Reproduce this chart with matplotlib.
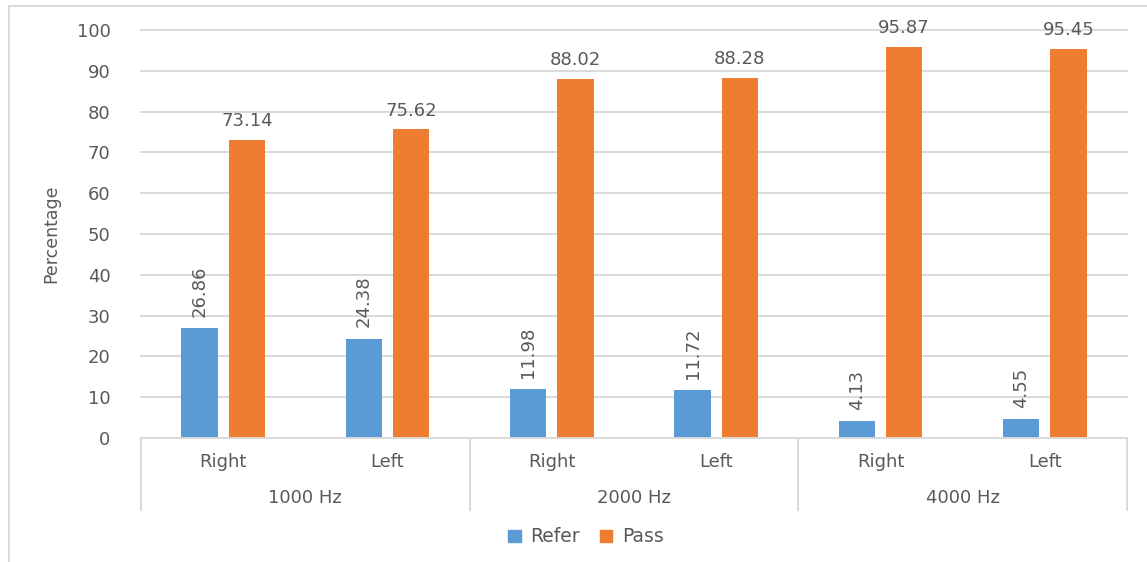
import matplotlib
matplotlib.use("Agg")
import matplotlib.pyplot as plt
from matplotlib.lines import Line2D
from matplotlib.patches import Patch
import numpy as np

# Data
groups = ["1000 Hz", "2000 Hz", "4000 Hz"]
sides = ["Right", "Left", "Right", "Left", "Right", "Left"]
refer = [26.86, 24.38, 11.98, 11.72, 4.13, 4.55]
pass_ = [73.14, 75.62, 88.02, 88.28, 95.87, 95.45]
y_ticks = [0, 10, 20, 30, 40, 50, 60, 70, 80, 90, 100]

BLUE = "#5B9BD5"
ORANGE = "#ED7D31"
TEXT = "#595959"
GRID = "#D9D9D9"

plt.rcParams["font.family"] = ["DejaVu Sans"]

W, H = 1147, 562
fig = plt.figure(figsize=(W / 100, H / 100), dpi=100)
ax = fig.add_axes([141 / W, (H - 438) / H, (1127 - 141) / W, (438 - 30) / H])

x = np.arange(len(sides))
width = 0.222
off = 0.144
b1 = ax.bar(x - off, refer, width, color=BLUE, zorder=3)
b2 = ax.bar(x + off, pass_, width, color=ORANGE, zorder=3)

ax.set_xlim(-0.5, len(sides) - 0.5)
ax.set_ylim(0, 100)
ax.set_yticks(y_ticks)
ax.set_yticklabels([str(t) for t in y_ticks])
ax.tick_params(axis="y", length=0, pad=22, labelsize=13, labelcolor=TEXT)
ax.set_xticks([])
for t in y_ticks[1:]:
    ax.axhline(t, color=GRID, linewidth=1.4, zorder=0, clip_on=False)
for s in ["left", "right", "top"]:
    ax.spines[s].set_visible(False)
ax.spines["bottom"].set_color(GRID)
ax.spines["bottom"].set_linewidth(1.4)
ax.spines["bottom"].set_zorder(4)

ax.set_ylabel("Percentage", fontsize=12.5, color=TEXT)
ax.yaxis.set_label_coords((60 - 141) / (1127 - 141), 0.5)

# value labels
for rect, v in zip(b2, pass_):
    ax.annotate(f"{v:.2f}", (rect.get_x() + rect.get_width() / 2, v),
                xytext=(0, 7), textcoords="offset points", ha="center", va="bottom",
                fontsize=13, color=TEXT)
for rect, v in zip(b1, refer):
    ax.annotate(f"{v:.2f}", (rect.get_x() + rect.get_width() / 2, v),
                xytext=(0, 8), textcoords="offset points", ha="center", va="bottom",
                rotation=90, fontsize=13, color=TEXT)

# two-level category axis
trans = ax.get_xaxis_transform()
axh = 438 - 30
for xi, s in zip(x, sides):
    ax.text(xi, -24 / axh, s, transform=trans, ha="center", va="center",
            fontsize=13, color=TEXT)
for gi, g in enumerate(groups):
    ax.text(2 * gi + 0.5, -60 / axh, g, transform=trans, ha="center", va="center",
            fontsize=13, color=TEXT)
for sx in [-0.5, 1.5, 3.5, 5.5]:
    ax.add_line(Line2D([sx, sx], [0, -72 / axh], transform=trans, color=GRID,
                       linewidth=1.4, clip_on=False))

# legend
handles = [Patch(color=BLUE, label="Refer"), Patch(color=ORANGE, label="Pass")]
fig.legend(handles=handles, loc="center", bbox_to_anchor=(586 / W, 1 - 537 / H),
           ncol=2, frameon=False, fontsize=13.5, labelcolor=TEXT,
           handlelength=0.65, handleheight=0.65, handletextpad=0.5, columnspacing=1.1)

# chart border
fig.add_artist(Line2D([9 / W, 1], [1 - 6 / H, 1 - 6 / H], transform=fig.transFigure,
                      color=GRID, linewidth=1.4))
fig.add_artist(Line2D([9 / W, 9 / W], [0, 1 - 6 / H], transform=fig.transFigure,
                      color=GRID, linewidth=1.4))

fig.savefig("out.png", dpi=100)
